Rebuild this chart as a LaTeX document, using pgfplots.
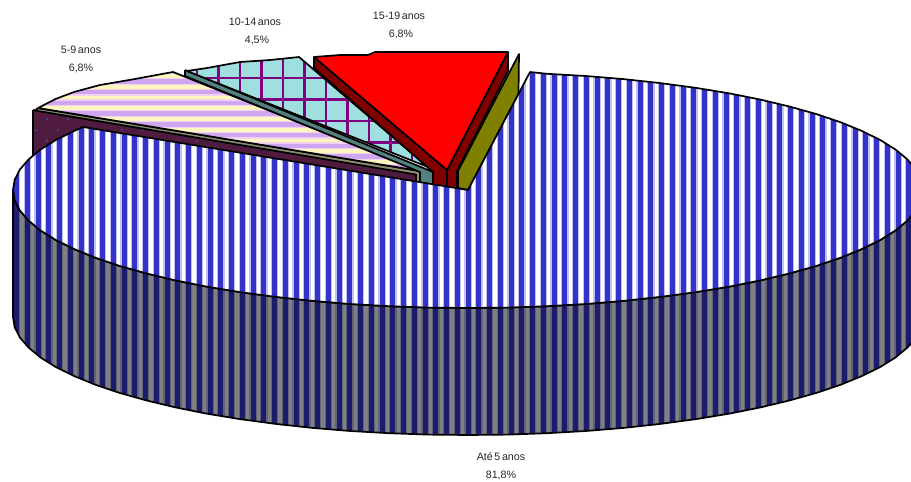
\documentclass[border=0pt]{standalone}
\usepackage{pgfplots}
\pgfplotsset{compat=1.18}
\usepackage{fontspec}
\setmainfont[WordSpace=0.55]{Liberation Sans}
\usetikzlibrary{patterns}
\definecolor{cblue}{HTML}{3333CC}
\definecolor{cnavy}{HTML}{1C1C6C}
\definecolor{cgray}{HTML}{808080}
\definecolor{ccream}{HTML}{FFF5BE}
\definecolor{clilac}{HTML}{CFA6F2}
\definecolor{cpinkw}{HTML}{F3D2F0}
\definecolor{cteal}{HTML}{9FDFDF}
\definecolor{cpurple}{HTML}{800080}
\definecolor{cplum}{HTML}{4F1B3F}
\definecolor{cdot}{HTML}{4A3A7C}
\definecolor{cband}{HTML}{538080}
\definecolor{ctan}{HTML}{8A8A70}
\definecolor{cdred}{HTML}{800000}
\definecolor{colive}{HTML}{808000}
\newcommand{\rr}[5]{\pgfsetfillcolor{#1}\pgfpathrectangle{\pgfqpoint{#2pt}{#3pt}}{\pgfqpoint{#4pt}{#5pt}}\pgfusepath{fill}}
\newcommand{\vstripes}[2]{%
 \rr{#1}{0}{0}{1200}{1200}%
 \foreach \k in {0,...,95}{\pgfmathsetmacro\xx{-8.65+\k*10.75}%
   \rr{#2!30!#1}{\xx}{0}{7.4}{1200}%
   \pgfmathsetmacro\xy{\xx+1.2}\rr{#2}{\xy}{0}{5}{1200}}}
\pgfdeclarepatterninherentlycolored{bluev}{\pgfpointorigin}{\pgfqpoint{1200pt}{1200pt}}{\pgfqpoint{1200pt}{1200pt}}{\vstripes{white}{cblue}}
\pgfdeclarepatterninherentlycolored{navyv}{\pgfpointorigin}{\pgfqpoint{1200pt}{1200pt}}{\pgfqpoint{1200pt}{1200pt}}{\vstripes{cgray}{cnavy}}
\pgfdeclarepatterninherentlycolored{pinkh}{\pgfpointorigin}{\pgfqpoint{1200pt}{1200pt}}{\pgfqpoint{1200pt}{1200pt}}{%
 \rr{ccream}{0}{0}{1200}{1200}%
 \foreach \k in {0,...,55}{\pgfmathsetmacro\yy{504.55-\k*10.75}%
   \rr{cpinkw}{0}{\yy}{1200}{7}%
   \pgfmathsetmacro\yz{\yy+1.2}\rr{clilac}{0}{\yz}{1200}{4.6}}}
\pgfdeclarepatterninherentlycolored{tealg}{\pgfpointorigin}{\pgfqpoint{1200pt}{1200pt}}{\pgfqpoint{1200pt}{1200pt}}{%
 \rr{cteal}{0}{0}{1200}{1200}%
 \foreach \k in {0,...,50}{\pgfmathsetmacro\xx{2.15+\k*21.5}\rr{cpurple}{\xx}{0}{2.7}{1200}}%
 \foreach \k in {0,...,25}{\pgfmathsetmacro\yy{467.15-\k*21.5}\rr{cpurple}{0}{\yy}{1200}{2.7}}}
\pgfdeclarepatterninherentlycolored{plumd}{\pgfpointorigin}{\pgfqpoint{1200pt}{1200pt}}{\pgfqpoint{1200pt}{1200pt}}{%
 \rr{cplum}{0}{0}{1200}{1200}%
 \foreach \px/\py in {46.7/119,68/119,36/130,57.7/130,46.7/140.7,68/140.7,89.5/119,79/130,100.5/130,111/119,122/130,132.5/119,143/130,154/119,165/130,175.5/119,186/130,197/141,218/141,240/141,261/141,283/152,304/152,326/152,348/152,369/163,391/163,412/173}{%
   \pgfmathsetmacro\xx{\px-1.2}\pgfmathsetmacro\yy{482-\py-1.2}\rr{cdot}{\xx}{\yy}{2.4}{2.4}}}
\begin{document}
\begin{tikzpicture}
\begin{axis}[name=ax,
  width=911pt,height=482pt,scale only axis,
  xmin=0,xmax=911,ymin=0,ymax=482,y dir=reverse,
  axis lines=none,clip=true,
  every axis plot/.append style={mark=none,draw=black,line width=1.7pt,line join=round},
]
% side wall of the big slice
\addplot[pattern=navyv] coordinates {(13,190)(14.7,200.3)(19.9,210.5)(28.5,220.5)(40.4,230.4)(55.6,239.9)(74,249)(95.3,257.7)(119.5,265.9)(146.3,273.4)(175.5,280.4)(207,286.7)(240.5,292.2)(275.7,296.9)(312.4,300.9)(350.2,304)(389,306.2)(428.3,307.6)(468,308)(507.7,307.6)(547,306.2)(585.8,304)(623.6,300.9)(660.3,296.9)(695.5,292.2)(729,286.7)(760.5,280.4)(789.7,273.4)(816.5,265.9)(840.7,257.7)(862,249)(880.4,239.9)(895.6,230.4)(907.5,220.5)(916.1,210.5)(921.3,200.3)(923,190)(923,317)(921.3,327.3)(916.1,337.5)(907.5,347.5)(895.6,357.4)(880.4,366.9)(862,376)(840.7,384.7)(816.5,392.9)(789.7,400.4)(760.5,407.4)(729,413.7)(695.5,419.2)(660.3,423.9)(623.6,427.9)(585.8,431)(547,433.2)(507.7,434.6)(468,435)(428.3,434.6)(389,433.2)(350.2,431)(312.4,427.9)(275.7,423.9)(240.5,419.2)(207,413.7)(175.5,407.4)(146.3,400.4)(119.5,392.9)(95.3,384.7)(74,376)(55.6,366.9)(40.4,357.4)(28.5,347.5)(19.9,337.5)(14.7,327.3)(13,317)(13,190)};
% 5-9 anos
\addplot[pattern=plumd] coordinates {(33,110)(416,174)(416,186)(33,165)(33,110)};
\addplot[fill=ctan] coordinates {(38,108)(420,171)(420,184)(416,184)(416,174.5)(35,110.5)(38,108)};
\addplot[pattern=pinkh] coordinates {(38,108)(55.6,99)(74,92)(100,85)(135,79)(173,72)(420,171)(38,108)};
% 10-14 anos
\addplot[fill=cband] coordinates {(185,70)(433,172)(433,186)(420,186)(420,172)(185,76)(185,70)};
\addplot[pattern=tealg] coordinates {(187,71)(207,68)(240,62)(270,60)(299,57)(428,167)(187,71)};
% 15-19 anos
\addplot[fill=cdred] coordinates {(314,57)(314,68)(433,172)(433,188)(457,188)(457,171)(508,71)(508,52)(447,170)(314,57)};
\addplot[draw=black] coordinates {(447,170)(447,188)};
\addplot[fill=red] coordinates {(447,170)(508,52)(375,52)(368,55)(340,55)(314,57)(447,170)};
\addplot[fill=colive] coordinates {(458,171)(519,54)(518.5,94)(468,190)(458,188)(458,171)};
% Ate 5 anos
\addplot[pattern=bluev] coordinates {(530,72)(547,73.8)(585.8,76)(623.6,79.1)(660.3,83.1)(695.5,87.8)(729,93.3)(760.5,99.6)(789.7,106.6)(816.5,114.1)(840.7,122.3)(862,131)(880.4,140.1)(895.6,149.6)(907.5,159.5)(916.1,169.5)(921.3,179.7)(923,190)(921.3,200.3)(916.1,210.5)(907.5,220.5)(895.6,230.4)(880.4,239.9)(862,249)(840.7,257.7)(816.5,265.9)(789.7,273.4)(760.5,280.4)(729,286.7)(695.5,292.2)(660.3,296.9)(623.6,300.9)(585.8,304)(547,306.2)(507.7,307.6)(468,308)(428.3,307.6)(389,306.2)(350.2,304)(312.4,300.9)(275.7,296.9)(240.5,292.2)(207,286.7)(175.5,280.4)(146.3,273.4)(119.5,265.9)(95.3,257.7)(74,249)(55.6,239.9)(40.4,230.4)(28.5,220.5)(19.9,210.5)(14.7,200.3)(13,190)(14.7,179.7)(19.9,169.5)(28.5,159.5)(40.4,149.6)(55.6,140.1)(74,131)(83,127)(468,190)(530,72)};
% labels
\tikzset{lab/.style={font=\fontsize{10.7}{12}\selectfont,inner sep=0pt,text=black!85}}
\node[lab] at (axis cs:81,50) {5-9 anos};
\node[lab] at (axis cs:81,68) {6,8\%};
\node[lab] at (axis cs:255,22) {10-14 anos};
\node[lab] at (axis cs:257,40) {4,5\%};
\node[lab] at (axis cs:399,16) {15-19 anos};
\node[lab] at (axis cs:401,34) {6,8\%};
\node[lab] at (axis cs:501,457) {Até 5 anos};
\node[lab] at (axis cs:501,475) {81,8\%};
\end{axis}
\pgfresetboundingbox
\useasboundingbox (ax.south west) rectangle (ax.north east);
\end{tikzpicture}
\end{document}
